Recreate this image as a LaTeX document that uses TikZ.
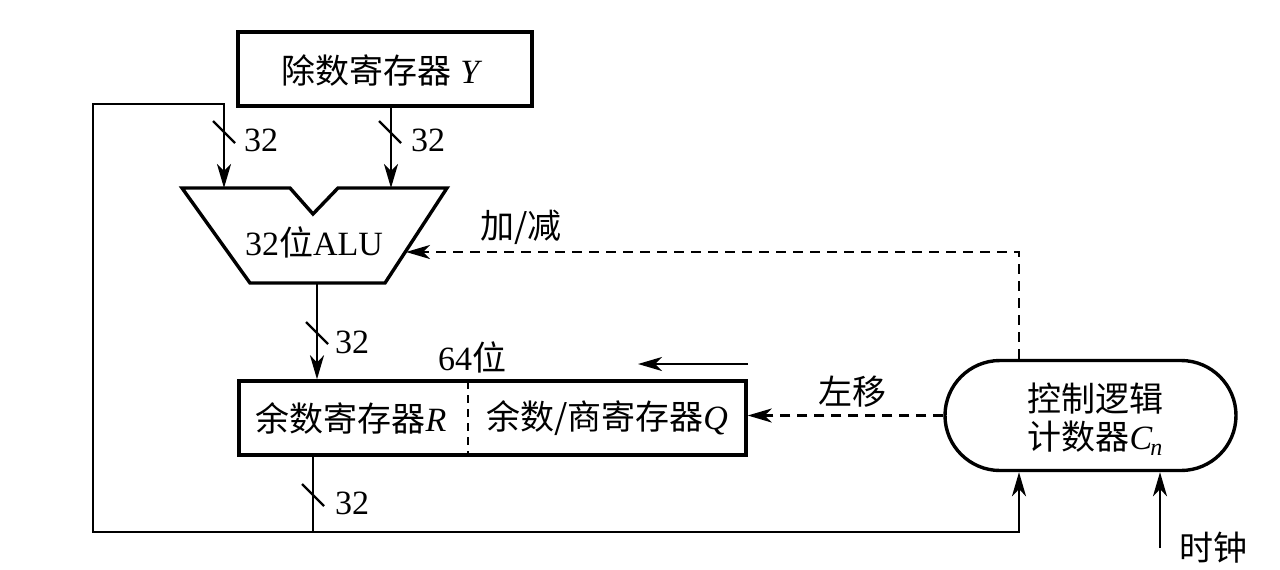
\documentclass[tikz,border=0pt]{standalone}
\usepackage{fontspec}
\setmainfont{Liberation Serif}
\newfontfamily\cjk{Noto Sans CJK SC}
\usetikzlibrary{arrows.meta,shapes.misc}
\begin{document}
\begin{tikzpicture}[x=0.5pt,y=-0.5pt,
  font=\fontsize{17}{19}\selectfont,
  box/.style={draw,line width=1.7pt,inner sep=0pt},
  wire/.style={line width=1.15pt},
  arr/.style={wire,-{Stealth[length=12pt,width=7pt,inset=3.5pt]}},
  darr/.style={arr,dash pattern=on 5pt off 3.5pt},
  lbl/.style={inner sep=0pt},
  tick/.style={line width=1.2pt}]
\useasboundingbox (0,0) rectangle (1280,569);
% divisor register
\node[box,minimum width=147pt,minimum height=37pt] (Y) at (385,69) {};
\node[lbl] (Yt) at (382,71) {{\cjk 除数寄存器} \textit{Y}};
% ALU
\coordinate (aluL) at (224,188);
\coordinate (aluR) at (391,188);
\coordinate (aluO) at (317,283);
\coordinate (aluC) at (406,252);
\draw[line width=1.7pt,line join=miter] (182,188) -- (290,188) -- (313,214) -- (338,188) -- (447,188) -- (385,283) -- (250,283) -- cycle;
\node[lbl] (alut) at (314,242) {32{\cjk 位}ALU};
% remainder register
\node[box,minimum width=253.5pt,minimum height=37pt] (R) at (492.5,418) {};
\coordinate (div1) at (468,381);
\coordinate (div2) at (468,455);
\draw[wire,dash pattern=on 4pt off 3pt] (div1) -- (div2);
\node[lbl] (Rt) at (351,418) {{\cjk 余数寄存器}\textit{R}};
\node[lbl] (Qt) at (607,418) {{\cjk 余数/商寄存器}\textit{Q}};
\node[lbl] (bits) at (472,357) {64{\cjk 位}};
\coordinate (s1) at (748,364);
\coordinate (s2) at (638,364);
\draw[arr] (s1) -- (s2);
% control
\node[draw,line width=1.7pt,rounded rectangle,minimum width=145.5pt,minimum height=55pt,inner sep=0pt] (C) at (1090.5,415.5) {};
\node[lbl,align=center] (Ct) at (1095,419) {{\cjk 控制逻辑}\\{\cjk 计数器}\textit{C\kern-1pt\raisebox{-3pt}{\fontsize{12}{12}\selectfont n}}};
% connectors
\coordinate (j) at (313,532);
\coordinate (rOut) at (313,455);
\coordinate (lx) at (93,104);
\coordinate (xb) at (1019,0);
\coordinate (clk) at (1160,548);
\draw[wire] (rOut) -- (j);
\draw[arr] (j) -- (j -| lx) -- (lx) -| (aluL);
\draw[arr] (j) -| (xb |- C.south);
\draw[arr] (clk) -- (clk |- C.south);
\draw[arr] (Y.south -| aluR) -- (aluR);
\draw[arr] (aluO) -- (aluO |- R.north);
\draw[darr] (C.north -| xb) |- (aluC);
\draw[darr] (C.west) -- (R.east |- C.west);
% bus width ticks
\coordinate (t1) at (224,132);
\coordinate (t2) at (390,132);
\coordinate (t3) at (317,333);
\coordinate (t4) at (313,495);
\foreach \t in {t1,t2,t3,t4} \draw[tick] (\t) +(-11,-11) -- +(11,11);
\node[lbl] (n1) at (261,140) {32};
\node[lbl] (n2) at (428,140) {32};
\node[lbl] (n3) at (352,342) {32};
\node[lbl] (n4) at (352,503) {32};
% labels
\node[lbl] (addsub) at (521,227) {{\cjk 加/减}};
\node[lbl] (shl) at (852,392) {{\cjk 左移}};
\node[lbl] (clkt) at (1213,548) {{\cjk 时钟}};
\end{tikzpicture}
\end{document}
